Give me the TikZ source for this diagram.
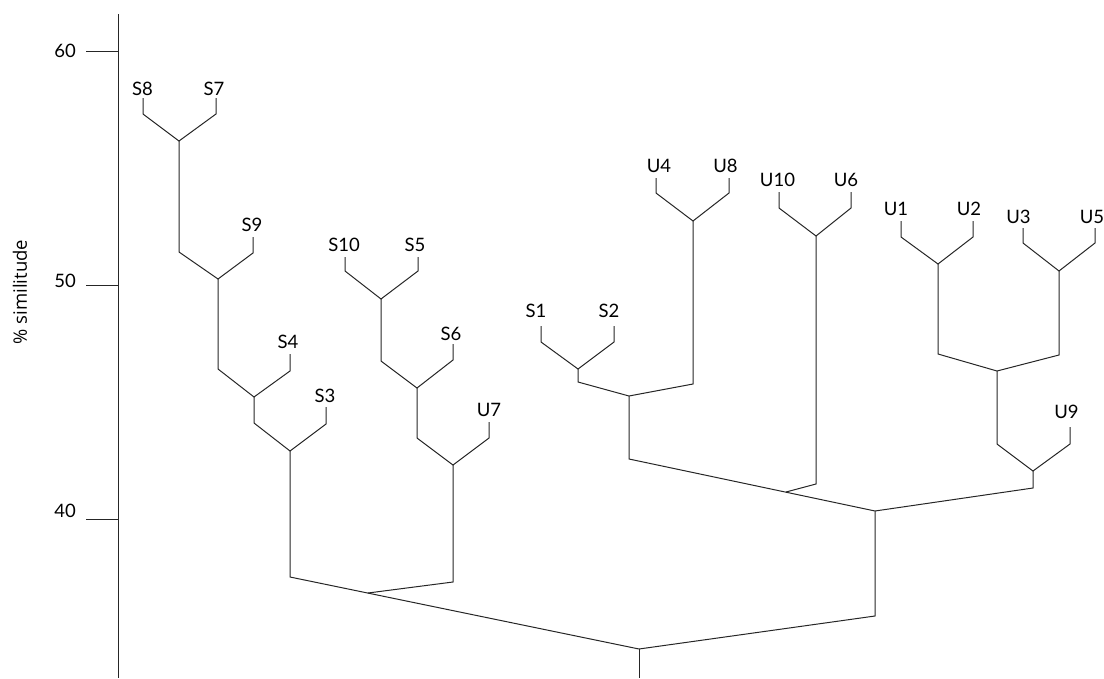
\documentclass[tikz,border=0pt]{standalone}
\usepackage{fontspec}
\setmainfont{Lato}
\newfontfamily\simfont{Open Sans}
\newcommand\leafnode[6]{%
  \coordinate (#1t) at (#2,#3);
  \coordinate (#1e) at (#2,#4);
  \node[lab] (l#1) at (#5,#6) {#1};}
\newcommand\junc[3]{%
  \coordinate (#1) at (#2,#3);}
\begin{document}
\begin{tikzpicture}[x=1pt,y=-1pt,
  lab/.style={anchor=base, inner sep=0pt, font=\fontsize{18.5}{20}\selectfont, text=black},
  br/.style={draw=black!85, line width=1pt, line join=miter}]
\useasboundingbox (0,0) rectangle (1104,678);

% axis
\coordinate (axt) at (118,14);
\coordinate (axb) at (118,678);
\draw[br] (axt) -- (axb);
\foreach \v/\y/\b in {60/51/57, 50/285/287, 40/519/517}{
  \coordinate (tk\v) at (118,\y);
  \coordinate (tl\v) at (86,\y);
  \draw[br] (tl\v) -- (tk\v);
  \node[lab] (n\v) at (65,\b) {\v};
}
\node[font=\simfont\fontsize{18.5}{20}\selectfont, rotate=90, inner sep=0pt, text=black] (ylab) at (20,292) {\% similitude};

% leaves: name, x, top, elbow, label x, label baseline
\leafnode{S8}{143}{98}{114}{142.5}{95}
\leafnode{S7}{216}{98}{114}{214}{95}
\leafnode{S9}{253}{237}{253}{252}{231}
\leafnode{S4}{290}{354}{371}{288}{348}
\leafnode{S3}{326}{407}{424}{325}{402}
\leafnode{S10}{345}{257}{271}{344}{251}
\leafnode{S5}{418}{257}{271}{415}{251}
\leafnode{S6}{453}{344}{360}{451}{340}
\leafnode{U7}{489}{422}{438}{489}{416}
\leafnode{S1}{541}{326}{342}{536}{317}
\leafnode{S2}{614}{326}{342}{609}{317}
\leafnode{U4}{656}{178}{193}{659}{172}
\leafnode{U8}{729}{178}{193}{725.5}{172}
\leafnode{U10}{779}{192}{208}{777.5}{186}
\leafnode{U6}{851}{192}{208}{846}{186}
\leafnode{U1}{901}{221}{237}{896}{215}
\leafnode{U2}{973}{221}{237}{969}{215}
\leafnode{U3}{1023}{228}{243}{1018.5}{223}
\leafnode{U5}{1095}{228}{243}{1092}{223}
\leafnode{U9}{1070}{427}{444}{1066.5}{418}

% junctions
\junc{J1}{179}{141}  \junc{J1b}{179}{252}
\junc{J2}{218}{279}  \junc{J2b}{218}{369}
\junc{J3}{254}{397}  \junc{J3b}{254}{423}
\junc{J4}{290}{451}  \junc{J4b}{290}{577}
\junc{J5}{381}{299}  \junc{J5b}{381}{361}
\junc{J6}{417}{388}  \junc{J6b}{417}{438}
\junc{J7}{453}{465}  \junc{J7b}{453}{582}
\junc{J8}{368}{593}
\junc{J9}{578}{369}  \junc{J9b}{578}{382}
\junc{J10}{693}{221} \junc{J10b}{693}{384}
\junc{J11}{629}{396} \junc{J11b}{629}{459}
\junc{J12}{816}{236} \junc{J12b}{816}{484}
\junc{J13}{786}{492}
\junc{J14}{938}{264} \junc{J14b}{938}{354}
\junc{J15}{1059}{271} \junc{J15b}{1059}{355}
\junc{J16}{997}{371} \junc{J16b}{997}{444}
\junc{J17}{1033}{471} \junc{J17b}{1033}{488}
\junc{J18}{875}{511} \junc{J18b}{875}{616}
\junc{root}{639}{649} \junc{rootb}{639}{678}

% branches
\draw[br] (S8t) -- (S8e) -- (J1) -- (S7e) -- (S7t);
\draw[br] (J1) -- (J1b) -- (J2) -- (S9e) -- (S9t);
\draw[br] (J2) -- (J2b) -- (J3) -- (S4e) -- (S4t);
\draw[br] (J3) -- (J3b) -- (J4) -- (S3e) -- (S3t);
\draw[br] (J4) -- (J4b) -- (root);
\draw[br] (S10t) -- (S10e) -- (J5) -- (S5e) -- (S5t);
\draw[br] (J5) -- (J5b) -- (J6) -- (S6e) -- (S6t);
\draw[br] (J6) -- (J6b) -- (J7) -- (U7e) -- (U7t);
\draw[br] (J7) -- (J7b) -- (J8);
\draw[br] (S1t) -- (S1e) -- (J9) -- (S2e) -- (S2t);
\draw[br] (U4t) -- (U4e) -- (J10) -- (U8e) -- (U8t);
\draw[br] (J9) -- (J9b) -- (J11) -- (J10b) -- (J10);
\draw[br] (J11) -- (J11b) -- (J18);
\draw[br] (U10t) -- (U10e) -- (J12) -- (U6e) -- (U6t);
\draw[br] (J12) -- (J12b) -- (J13);
\draw[br] (U1t) -- (U1e) -- (J14) -- (U2e) -- (U2t);
\draw[br] (U3t) -- (U3e) -- (J15) -- (U5e) -- (U5t);
\draw[br] (J14) -- (J14b) -- (J16) -- (J15b) -- (J15);
\draw[br] (J16) -- (J16b) -- (J17) -- (U9e) -- (U9t);
\draw[br] (J17) -- (J17b) -- (J18);
\draw[br] (J18) -- (J18b) -- (root);
\draw[br] (root) -- (rootb);
\end{tikzpicture}
\end{document}
